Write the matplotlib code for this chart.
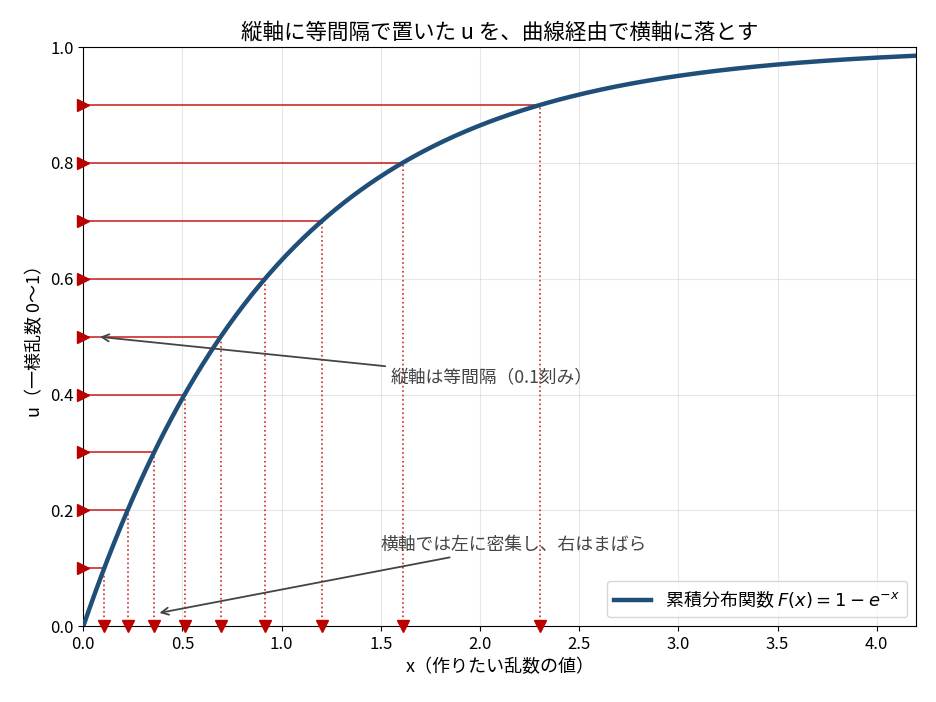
import numpy as np
import matplotlib
matplotlib.use("Agg")
import matplotlib.pyplot as plt

plt.rcParams["font.family"] = ["Noto Sans CJK JP", "DejaVu Sans"]
plt.rcParams["axes.unicode_minus"] = False

# uniform samples placed at equal spacing on the vertical axis
u_levels = [0.1, 0.2, 0.3, 0.4, 0.5, 0.6, 0.7, 0.8, 0.9]
x_max = 4.2

TITLE = "縦軸に等間隔で置いた u を、曲線経由で横軸に落とす"
XLABEL = "x（作りたい乱数の値）"
YLABEL = "u（一様乱数 0〜1）"
LEGEND = r"累積分布関数 $F(x) = 1 - e^{-x}$"
NOTE_Y = "縦軸は等間隔（0.1刻み）"
NOTE_X = "横軸では左に密集し、右はまばら"

fig, ax = plt.subplots(figsize=(9.36, 7.02), dpi=100)
fig.subplots_adjust(left=0.089, right=0.979, top=0.933, bottom=0.108)

xs = np.linspace(0, x_max, 400)
ax.plot(xs, 1 - np.exp(-xs), color="#1f4e79", lw=3.2, label=LEGEND, zorder=3)

for u in u_levels:
    xv = -np.log(1 - u)
    ax.plot([0, xv], [u, u], color="#cc2b2b", lw=1.2, zorder=2)
    ax.plot([xv, xv], [0, u], color="#cc2b2b", lw=1.2, ls=":", zorder=2)
    ax.plot(0, u, marker=">", color="#bb0000", ms=8, clip_on=False, zorder=4)
    ax.plot(xv, 0, marker="v", color="#bb0000", ms=8, clip_on=False, zorder=4)

ax.annotate(NOTE_Y, xy=(0.07, 0.5), xytext=(1.55, 0.43), va="center",
            fontsize=12.8, color="#444444",
            arrowprops=dict(arrowstyle="->", color="#444444", lw=1.3))
ax.annotate(NOTE_X, xy=(0.37, 0.022), xytext=(1.5, 0.14), va="center",
            fontsize=12.8, color="#444444",
            arrowprops=dict(arrowstyle="->", color="#444444", lw=1.3))

ax.set_xlim(0, x_max)
ax.set_ylim(0, 1)
ax.grid(True, alpha=0.3)
ax.tick_params(labelsize=12)
ax.set_title(TITLE, fontsize=15.5)
ax.set_xlabel(XLABEL, fontsize=13)
ax.set_ylabel(YLABEL, fontsize=13)
ax.legend(loc="lower right", fontsize=13)

fig.savefig("out.png", dpi=100)
